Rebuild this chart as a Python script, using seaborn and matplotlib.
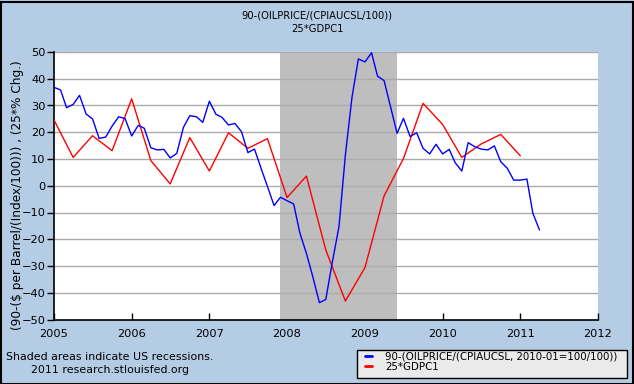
import pandas as pd
import matplotlib.pyplot as plt
import matplotlib.dates as mdates
from matplotlib.patches import Rectangle
from matplotlib.lines import Line2D
import seaborn as sns

# ── Data ──
OIL = [36.8, 35.8, 29.2, 30.4, 33.8, 26.8, 25.0, 17.7, 18.2, 22.3, 25.8, 25.1,
       18.6, 22.6, 21.5, 14.2, 13.4, 13.6, 10.4, 12.1, 21.8, 26.2, 25.8, 23.7,
       31.6, 26.7, 25.6, 22.7, 23.3, 20.2, 12.4, 13.7, 6.5, -0.3, -7.4, -4.3,
       -5.6, -6.8, -17.6, -25.3, -34.0, -43.7, -42.5, -28.4, -15.3, 11.5, 33.0, 47.4,
       46.3, 49.7, 41.0, 39.3, 29.6, 19.6, 25.2, 18.4, 19.8, 14.0, 11.9, 15.5,
       11.9, 13.6, 8.6, 5.5, 16.1, 14.6, 13.7, 13.4, 14.9, 9.0, 6.5, 2.1,
       2.1, 2.5, -10.3, -16.5]
GDP = [24.6, 10.6, 18.7, 13.1, 32.5, 9.4, 0.7, 18.0, 5.5, 19.8, 14.0, 17.6,
       -4.4, 3.6, -24.0, -43.1, -30.6, -3.8, 10.2, 30.8, 22.9, 10.6, 15.6, 19.2,
       11.2]
YEARS = list(range(2005, 2013))
Y_TICKS = list(range(-50, 51, 10))
RECESSION = ("2007-12-01", "2009-06-01")

TITLE = "90-(OILPRICE/(CPIAUCSL/100))\n25*GDPC1"
YLABEL = "(90-($ per Barrel/(Index/100))) , (25*% Chg.)"
OIL_LABEL = "90-(OILPRICE/(CPIAUCSL, 2010-01=100/100))"
GDP_LABEL = "25*GDPC1"

BG = "#B4CDE5"
GRID = "#ABABAB"
SHADE = "#BEBEBE"

oil = pd.DataFrame({"date": pd.date_range("2005-01-01", periods=len(OIL), freq="MS"),
                    "value": OIL})
gdp = pd.DataFrame({"date": pd.date_range("2005-01-01", periods=len(GDP), freq="QS"),
                    "value": GDP})

sns.set_style("white")
plt.rcParams.update({
    "font.family": ["DejaVu Sans"],
    "text.color": "black",
    "axes.labelcolor": "black",
    "xtick.color": "black",
    "ytick.color": "black",
})

W, H = 634, 384
fig = plt.figure(figsize=(W / 100, H / 100), dpi=100, facecolor=BG)
ax = fig.add_axes([54 / W, 1 - 319.5 / H, 544 / W, 267.5 / H])
ax.set_facecolor("white")

ax.axvspan(pd.Timestamp(RECESSION[0]), pd.Timestamp(RECESSION[1]),
           color=SHADE, lw=0, zorder=1)
for y in Y_TICKS[1:]:
    ax.axhline(y, color=GRID, lw=1, zorder=2)

sns.lineplot(data=oil, x="date", y="value", ax=ax, color="#0000FF", lw=1, zorder=4)
sns.lineplot(data=gdp, x="date", y="value", ax=ax, color="#FF0000", lw=1, zorder=3)

ax.set_xlim(pd.Timestamp("2005-01-01"), pd.Timestamp("2012-01-01"))
ax.set_ylim(-50, 50)
ax.set_xticks([pd.Timestamp(f"{y}-01-01") for y in YEARS])
ax.xaxis.set_major_formatter(mdates.DateFormatter("%Y"))
ax.set_yticks(Y_TICKS)
ax.set_xlabel("")
ax.set_ylabel(YLABEL, fontsize=8.75)
ax.yaxis.set_label_coords(-0.056, 0.465)

for s in ["top", "right"]:
    ax.spines[s].set_visible(False)
for s in ["left", "bottom"]:
    ax.spines[s].set_color("black")
    ax.spines[s].set_linewidth(1.2)
ax.tick_params(axis="y", direction="out", length=5, width=1, labelsize=8.2,
               pad=1, left=True)
ax.tick_params(axis="x", direction="in", length=5, width=1, labelsize=8.2,
               pad=7, bottom=True)

fig.text(0.5, 1 - 10 / H, TITLE, ha="center", va="top", fontsize=7.2,
         linespacing=1.5)

fig.text(110 / W, 1 - 357 / H, "Shaded areas indicate US recessions.",
         ha="center", va="center", fontsize=7.9)
fig.text(110 / W, 1 - 370 / H, "2011 research.stlouisfed.org",
         ha="center", va="center", fontsize=7.9)

# legend box drawn by hand to match the FRED layout
fig.patches.append(Rectangle((357 / W, 1 - 378 / H), 270 / W, 28 / H,
                             transform=fig.transFigure, facecolor="#EAEAEA",
                             edgecolor="black", lw=1))
handles = [Line2D([], [], color="#0000FF", lw=2), Line2D([], [], color="#FF0000", lw=2)]
fig.legend(handles, [OIL_LABEL, GDP_LABEL], loc="upper left",
           bbox_to_anchor=(363 / W, 1 - 350 / H), fontsize=7.4,
           frameon=False, handlelength=0.7, handletextpad=1.3,
           borderpad=0.15, labelspacing=0.0, borderaxespad=0)

fig.patches.append(Rectangle((0.5 / W, 0.5 / H), 632 / W, 382 / H,
                             transform=fig.transFigure, fill=False,
                             edgecolor="black", lw=1.5))

fig.savefig("out.png", dpi=100, facecolor=BG)
